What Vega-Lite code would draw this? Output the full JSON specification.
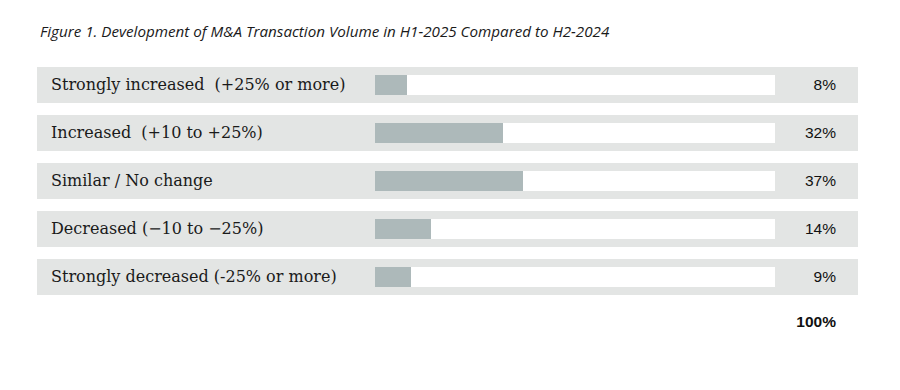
{
  "$schema": "https://vega.github.io/schema/vega-lite/v6.json",
  "width": 900,
  "height": 390,
  "autosize": {"type": "fit", "contains": "padding"},
  "padding": {"left": 0, "right": 0, "top": 24, "bottom": 0},
  "background": "white",
  "config": {"view": {"stroke": null}},
  "title": {
    "text": "Figure 1. Development of M&A Transaction Volume in H1-2025 Compared to H2-2024",
    "anchor": "start",
    "frame": "group",
    "dx": 40,
    "offset": 10,
    "font": "Open Sans",
    "fontStyle": "italic",
    "fontWeight": "normal",
    "fontSize": 15.2,
    "color": "#1a1a1a"
  },
  "data": {
    "values": [
      {"cat": "r1", "label": "Strongly increased \u00a0(+25% or more)", "value": 8, "pct": "8%", "kind": "row"},
      {"cat": "r2", "label": "Increased \u00a0(+10 to +25%)", "value": 32, "pct": "32%", "kind": "row"},
      {"cat": "r3", "label": "Similar / No change", "value": 37, "pct": "37%", "kind": "row"},
      {"cat": "r4", "label": "Decreased (\u221210 to \u221225%)", "value": 14, "pct": "14%", "kind": "row"},
      {"cat": "r5", "label": "Strongly decreased (-25% or more)", "value": 9, "pct": "9%", "kind": "row"},
      {"cat": "total", "label": "", "value": 100, "pct": "100%", "kind": "total"}
    ]
  },
  "encoding": {
    "y": {
      "field": "cat",
      "type": "nominal",
      "sort": null,
      "axis": null,
      "scale": {"domain": ["r1", "r2", "r3", "r4", "r5", "total"], "range": [11, 299], "paddingInner": 0, "paddingOuter": 0}
    }
  },
  "layer": [
    {
      "transform": [{"filter": "datum.kind == 'row'"}],
      "mark": {"type": "bar", "height": 36, "color": "#e3e5e4"},
      "encoding": {
        "x": {"datum": -84.5, "type": "quantitative", "axis": null, "scale": {"domain": [-93.75, 131.25], "nice": false, "zero": false}},
        "x2": {"datum": 120.75}
      }
    },
    {
      "transform": [{"filter": "datum.kind == 'row'"}],
      "mark": {"type": "bar", "height": 20, "color": "#ffffff"},
      "encoding": {
        "x": {"datum": 0, "type": "quantitative"},
        "x2": {"datum": 100}
      }
    },
    {
      "transform": [{"filter": "datum.kind == 'row'"}],
      "mark": {"type": "bar", "height": 20, "color": "#adb9ba"},
      "encoding": {
        "x": {"field": "value", "type": "quantitative"}
      }
    },
    {
      "transform": [{"filter": "datum.kind == 'row'"}],
      "mark": {"type": "text", "align": "left", "baseline": "middle", "font": "DejaVu Serif", "fontSize": 16, "color": "#1a1a1a"},
      "encoding": {
        "x": {"datum": -81, "type": "quantitative"},
        "text": {"field": "label", "type": "nominal"}
      }
    },
    {
      "transform": [{"filter": "datum.kind == 'row'"}],
      "mark": {"type": "text", "align": "right", "baseline": "middle", "font": "Liberation Sans", "fontSize": 15.5, "color": "#111111"},
      "encoding": {
        "x": {"datum": 115.25, "type": "quantitative"},
        "text": {"field": "pct", "type": "nominal"}
      }
    },
    {
      "transform": [{"filter": "datum.kind == 'total'"}],
      "mark": {"type": "text", "align": "right", "baseline": "middle", "dy": -3, "font": "Liberation Sans", "fontSize": 15.5, "fontWeight": "bold", "color": "#111111"},
      "encoding": {
        "x": {"datum": 115.25, "type": "quantitative"},
        "text": {"field": "pct", "type": "nominal"}
      }
    }
  ]
}
